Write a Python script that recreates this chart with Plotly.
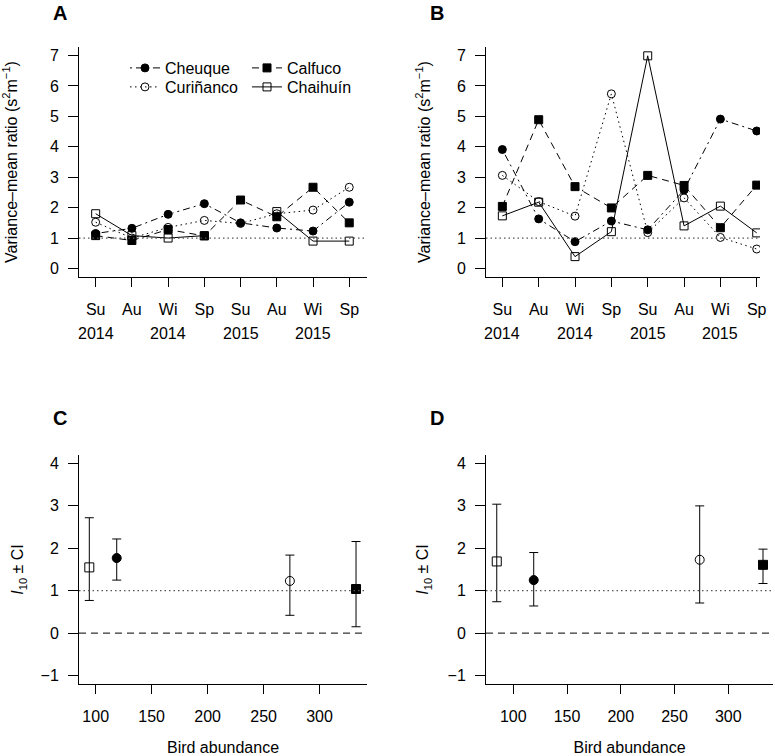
import plotly.graph_objects as go

# seasons sampled (x axis of panels A and B)
seasons = ["Su", "Au", "Wi", "Sp", "Su", "Au", "Wi", "Sp"]
years = ["2014", "2014", "2015", "2015"]
season_x = list(range(1, len(seasons) + 1))
year_x = season_x[::2]

# panel A: variance-mean ratio per site
cheuque_a = [1.15, 1.32, 1.78, 2.13, 1.50, 1.33, 1.23, 2.18]
curinanco_a = [1.52, 1.00, 1.35, 1.58, 1.48, 1.80, 1.92, 2.67]
calfuco_a = [1.08, 0.92, 1.28, 1.07, 2.25, 1.70, 2.67, 1.50]
chaihuin_a = [1.80, 1.08, 1.00, 1.08, None, 1.87, 0.90, 0.90]

# panel B
cheuque_b = [3.91, 1.63, 0.88, 1.56, 1.27, 2.58, 4.91, 4.52]
curinanco_b = [3.06, 2.20, 1.72, 5.74, 1.18, 2.32, 1.02, 0.64]
calfuco_b = [2.04, 4.89, 2.69, 1.99, 3.06, 2.73, 1.34, 2.74]
chaihuin_b = [1.73, 2.18, 0.39, 1.21, 6.99, 1.40, 2.05, 1.17]

# panels C and D: order Chaihuín, Cheuque, Curiñanco, Calfuco
site_order = ["Chaihuín", "Cheuque", "Curiñanco", "Calfuco"]
abundance_c = [94.3, 118.8, 273.5, 332.6]
i10_c = [1.55, 1.77, 1.23, 1.04]
lo_c = [0.77, 1.25, 0.42, 0.15]
hi_c = [2.72, 2.22, 1.84, 2.16]

abundance_d = [84.6, 119.0, 273.4, 332.3]
i10_d = [1.69, 1.25, 1.73, 1.61]
lo_d = [0.74, 0.64, 0.71, 1.17]
hi_d = [3.04, 1.90, 3.00, 1.98]

# one legend box per entry, laid out 2 x 2 like the R legend
style = {
    "Cheuque": dict(symbol="circle", dash="2px,4px,7px,4px", legend="legend"),
    "Curiñanco": dict(symbol="circle-open", dash="1.5px,3.5px", legend="legend2"),
    "Calfuco": dict(symbol="square", dash="7px,5px", legend="legend3"),
    "Chaihuín": dict(symbol="square-open", dash="solid", legend="legend4"),
}

W, H = 775, 756
FONT = "Liberation Sans, Arial, Helvetica, sans-serif"


def dom_x(a, b):
    return [a / W, b / W]


def dom_y(top, bottom):
    return [1 - bottom / H, 1 - top / H]


fig = go.Figure()

panel_ab = [
    ("x", "y", [cheuque_a, curinanco_a, calfuco_a, chaihuin_a], True),
    ("x2", "y2", [cheuque_b, curinanco_b, calfuco_b, chaihuin_b], False),
]
names = ["Cheuque", "Curiñanco", "Calfuco", "Chaihuín"]
for xa, ya, series, show in panel_ab:
    for name, vals in zip(names, series):
        st = style[name]
        fig.add_trace(
            go.Scatter(
                x=season_x,
                y=vals,
                name=name,
                mode="lines+markers",
                line=dict(color="black", width=1, dash=st["dash"]),
                marker=dict(symbol=st["symbol"], size=8, color="black",
                            line=dict(color="black", width=1)),
                xaxis=xa,
                yaxis=ya,
                showlegend=show,
                legend=st["legend"],
            )
        )

for xa, ya, xs, ys, lo, hi in [
    ("x3", "y3", abundance_c, i10_c, lo_c, hi_c),
    ("x4", "y4", abundance_d, i10_d, lo_d, hi_d),
]:
    for i, name in enumerate(site_order):
        fig.add_trace(
            go.Scatter(
                x=[xs[i]],
                y=[ys[i]],
                mode="markers",
                marker=dict(symbol=style[name]["symbol"], size=9, color="black",
                            line=dict(color="black", width=1)),
                error_y=dict(type="data", symmetric=False,
                             array=[hi[i] - ys[i]], arrayminus=[ys[i] - lo[i]],
                             color="black", thickness=1, width=4.5),
                xaxis=xa,
                yaxis=ya,
                showlegend=False,
            )
        )

ax = dict(showline=True, linecolor="black", linewidth=1, ticks="outside",
          tickcolor="black", tickwidth=1, showgrid=False, zeroline=False,
          automargin=False, tickfont=dict(size=16, color="black"))
tfont = dict(size=16, color="black")

vmr_title = "Variance–mean ratio (s<sup>2</sup>m<sup>−1</sup>)"
i10_title = "<i>I</i><sub>10</sub> ± CI"


def leg(px, py):
    return dict(x=px / W, y=1 - py / H, xanchor="left", yanchor="top",
                bgcolor="rgba(0,0,0,0)", font=dict(size=16), itemwidth=30)


fig.update_layout(
    width=W,
    height=H,
    margin=dict(l=0, r=0, t=0, b=0),
    paper_bgcolor="white",
    plot_bgcolor="white",
    font=dict(family=FONT, size=16, color="black"),
    xaxis=dict(ax, domain=dom_x(79, 367), anchor="y", range=[0.54, 8.49],
               tickvals=season_x, ticktext=seasons, ticklen=9, ticklabelstandoff=9),
    yaxis=dict(ax, domain=dom_y(47, 277), anchor="x", range=[-0.28, 7.28],
               tickvals=list(range(0, 8)), ticklen=10, ticklabelstandoff=6,
               title=dict(text=vmr_title, standoff=30, font=tfont)),
    xaxis2=dict(ax, domain=dom_x(486, 760), anchor="y2", range=[0.55, 8.09],
                tickvals=season_x, ticktext=seasons, ticklen=9, ticklabelstandoff=9),
    yaxis2=dict(ax, domain=dom_y(47, 277), anchor="x2", range=[-0.28, 7.28],
                tickvals=list(range(0, 8)), ticklen=10, ticklabelstandoff=6,
                title=dict(text=vmr_title, standoff=22, font=tfont)),
    xaxis3=dict(ax, domain=dom_x(79, 367), anchor="y3", range=[85.1, 342.4],
                tickvals=[100, 150, 200, 250, 300], ticklen=9, ticklabelstandoff=9,
                title=dict(text="Bird abundance", standoff=25, font=tfont)),
    yaxis3=dict(ax, domain=dom_y(455, 684), anchor="x3", range=[-1.2, 4.2],
                tickvals=[-1, 0, 1, 2, 3, 4], ticktext=["−1", "0", "1", "2", "3", "4"],
                ticklen=10, ticklabelstandoff=6,
                title=dict(text=i10_title, standoff=12, font=tfont)),
    xaxis4=dict(ax, domain=dom_x(486, 773), anchor="y4", range=[74.6, 341.6],
                tickvals=[100, 150, 200, 250, 300], ticklen=9, ticklabelstandoff=9,
                title=dict(text="Bird abundance", standoff=25, font=tfont)),
    yaxis4=dict(ax, domain=dom_y(455, 684), anchor="x4", range=[-1.2, 4.2],
                tickvals=[-1, 0, 1, 2, 3, 4], ticktext=["−1", "0", "1", "2", "3", "4"],
                ticklen=10, ticklabelstandoff=6,
                title=dict(text=i10_title, standoff=14, font=tfont)),
    legend=leg(125, 51),
    legend2=leg(125, 70),
    legend3=leg(247, 51),
    legend4=leg(247, 70),
)

# reference lines
for xa, ya in [("x", "y"), ("x2", "y2"), ("x3", "y3"), ("x4", "y4")]:
    fig.add_shape(type="line", x0=0, x1=1, y0=1, y1=1,
                  xref=f"{xa} domain", yref=ya,
                  line=dict(color="#555555", width=1.2, dash="1.5px,3px"))
for xa, ya in [("x3", "y3"), ("x4", "y4")]:
    fig.add_shape(type="line", x0=0, x1=1, y0=0, y1=0,
                  xref=f"{xa} domain", yref=ya,
                  line=dict(color="black", width=1, dash="7px,5px"))

# year labels beneath the season ticks
for xa in ["x", "x2"]:
    for yx, yr in zip(year_x, years):
        fig.add_annotation(x=yx, y=1 - 333 / H, xref=xa, yref="paper", text=yr,
                           showarrow=False, xanchor="center", yanchor="middle",
                           font=dict(size=16))

# panel letters
for letter, px, py in [("A", 60, 13), ("B", 437, 13), ("C", 60, 418), ("D", 437, 418)]:
    fig.add_annotation(x=px / W, y=1 - py / H, xref="paper", yref="paper",
                       text=f"<b>{letter}</b>", showarrow=False,
                       xanchor="center", yanchor="middle", font=dict(size=20))

fig.write_html("out.html", config={"displayModeBar": False},
               post_script="document.body.style.margin='0';")
